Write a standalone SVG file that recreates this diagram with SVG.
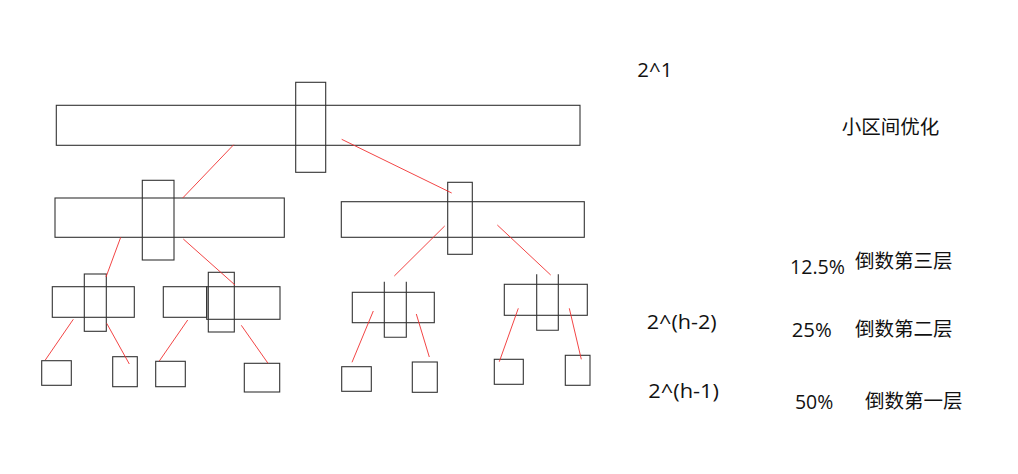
<svg xmlns="http://www.w3.org/2000/svg" width="1018" height="474" viewBox="0 0 1018 474">
<style>
.b{fill:none;stroke:#333;stroke-width:1.1}
.r{stroke:#f03030;stroke-width:0.9;fill:none}
.t{font-family:"Open Sans","Noto Sans CJK SC",sans-serif;font-size:20.5px;fill:#111}
.c{font-family:"Noto Sans CJK SC",sans-serif;font-size:19.5px;fill:#111}
</style>
<rect width="1018" height="474" fill="#fff"/>
<g id="node-root"><rect class="b" x="56.3" y="105.3" width="523.7" height="40"/><rect class="b" x="295.7" y="82.3" width="30" height="90"/></g>
<g id="node-l2-left"><rect class="b" x="55" y="198" width="229.3" height="39.3"/><rect class="b" x="142.3" y="180.3" width="31.7" height="79.7"/></g>
<g id="node-l2-right"><rect class="b" x="341.3" y="201.7" width="243" height="35.6"/><rect class="b" x="447.7" y="182.3" width="24.6" height="72"/></g>
<g id="node-l3-a"><rect class="b" x="52.3" y="286.7" width="82" height="30.6"/><rect class="b" x="84.3" y="274" width="22" height="57.3"/></g>
<g id="node-l3-b"><rect class="b" x="163.3" y="286.7" width="43.4" height="30.6"/><rect class="b" x="206.7" y="286.7" width="73.3" height="32.6"/><rect class="b" x="208.3" y="272.3" width="26" height="59.7"/></g>
<g id="node-l3-c"><rect class="b" x="352.3" y="292.3" width="82" height="30.4"/><path class="b" d="M384.3,281.7V337.3H406.3V281.7"/></g>
<g id="node-l3-d"><rect class="b" x="504.3" y="284.3" width="83" height="31"/><path class="b" d="M536.7,274.3V330.3H558.3V274.3"/></g>
<g id="leaf-1"><rect class="b" x="41.7" y="360.7" width="29.6" height="24.6"/></g>
<g id="leaf-2"><rect class="b" x="112.7" y="356.7" width="24.6" height="30"/></g>
<g id="leaf-3"><rect class="b" x="155.7" y="361.3" width="29.6" height="25.4"/></g>
<g id="leaf-4"><rect class="b" x="244.3" y="363.3" width="35.4" height="28.7"/></g>
<g id="leaf-5"><rect class="b" x="341.7" y="366.7" width="29.6" height="24.6"/></g>
<g id="leaf-6"><rect class="b" x="412.3" y="362" width="25" height="30.3"/></g>
<g id="leaf-7"><rect class="b" x="494.3" y="359.3" width="29" height="25"/></g>
<g id="leaf-8"><rect class="b" x="565.3" y="355.3" width="24.7" height="30"/></g>
<g id="connectors">
<line class="r" x1="233.7" y1="144.7" x2="182.7" y2="198"/>
<line class="r" x1="341.7" y1="139.3" x2="451.7" y2="193"/>
<line class="r" x1="120.7" y1="237.3" x2="106" y2="277"/>
<line class="r" x1="183.3" y1="239" x2="235" y2="285"/>
<line class="r" x1="444.7" y1="226" x2="394.3" y2="276"/>
<line class="r" x1="497.3" y1="225" x2="550.7" y2="275"/>
<line class="r" x1="73.3" y1="319.3" x2="45.3" y2="360"/>
<line class="r" x1="106.7" y1="323.3" x2="129.3" y2="364"/>
<line class="r" x1="187.7" y1="320" x2="159.3" y2="361"/>
<line class="r" x1="241.3" y1="325.3" x2="268" y2="363.3"/>
<line class="r" x1="373.3" y1="311" x2="352" y2="362.3"/>
<line class="r" x1="416.3" y1="314" x2="429.3" y2="357"/>
<line class="r" x1="518.3" y1="308.3" x2="499.3" y2="361.7"/>
<line class="r" x1="569.3" y1="308.3" x2="581.3" y2="359.3"/>
</g>
<g id="labels">
<text class="t" x="637.3" y="76.7" textLength="35" lengthAdjust="spacingAndGlyphs">2^1</text>
<text class="c" x="841.7" y="134">小区间优化</text>
<text class="t" x="790" y="274.3" textLength="55" lengthAdjust="spacingAndGlyphs">12.5%</text>
<text class="c" x="855" y="268">倒数第三层</text>
<text class="t" x="646.7" y="329.3" textLength="70" lengthAdjust="spacingAndGlyphs">2^(h-2)</text>
<text class="t" x="791.7" y="336.7" textLength="40" lengthAdjust="spacingAndGlyphs">25%</text>
<text class="c" x="855" y="336">倒数第二层</text>
<text class="t" x="648.3" y="398.3" textLength="70.7" lengthAdjust="spacingAndGlyphs">2^(h-1)</text>
<text class="t" x="795" y="409" textLength="38.3" lengthAdjust="spacingAndGlyphs">50%</text>
<text class="c" x="865" y="408">倒数第一层</text>
</g>
</svg>
